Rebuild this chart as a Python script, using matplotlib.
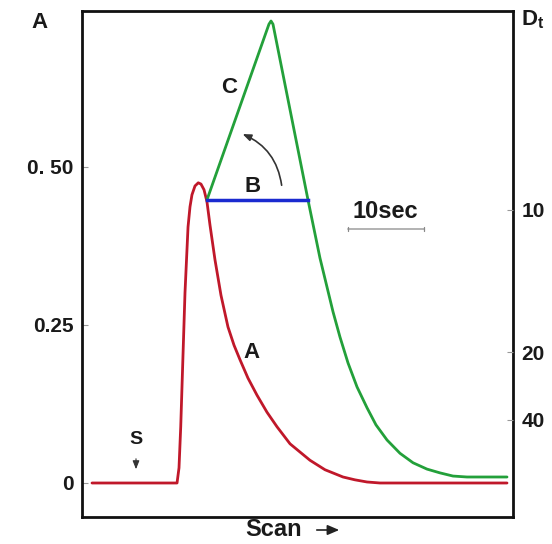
import matplotlib
matplotlib.use("Agg")
import matplotlib.pyplot as plt
from matplotlib.patches import FancyArrowPatch

plt.rcParams['font.family'] = ['Liberation Sans', 'DejaVu Sans']

# Curve A (red): scan time (s) vs absorbance
a_time = [1.22, 11.59, 11.83, 12.04, 12.26, 12.56, 12.93, 13.17, 13.41, 13.78, 14.18,
          14.51, 14.88, 15.24, 15.61, 16.22, 16.95, 17.80, 18.54, 19.27, 20.24, 21.34,
          22.56, 23.78, 25.37, 27.80, 29.63, 31.83, 33.29, 34.76, 36.34, 51.83]
a_abs = [0.0, 0.0, 0.024, 0.089, 0.179, 0.301, 0.405, 0.437, 0.456, 0.470, 0.475,
         0.473, 0.464, 0.445, 0.408, 0.353, 0.297, 0.247, 0.218, 0.195, 0.166, 0.139,
         0.112, 0.089, 0.062, 0.036, 0.021, 0.0095, 0.005, 0.0016, 0.0, 0.0]

# Curve C (green)
c_time = [15.24, 22.80, 23.05, 23.29, 27.56, 29.02, 29.88, 30.61, 31.46, 32.44, 33.54,
          34.76, 35.85, 37.20, 38.78, 40.37, 42.07, 43.66, 45.24, 46.95, 51.83]
c_abs = [0.448, 0.726, 0.731, 0.726, 0.448, 0.356, 0.310, 0.271, 0.231, 0.190, 0.152,
         0.119, 0.092, 0.068, 0.047, 0.032, 0.022, 0.016, 0.011, 0.0095, 0.0095]

# Line B (blue)
b_time = [15.24, 27.56]
b_abs = [0.448, 0.448]

left_ticks = [0, 0.25, 0.50]
left_labels = ['0', '0.25', '0. 50']
right_ticks = [0.432, 0.207, 0.0997]
right_labels = ['10', '20', '40']

TXT = '#1a1a1a'

fig = plt.figure(figsize=(5.52, 5.44), dpi=100)
ax = fig.add_axes([82/552, 1-517/544, 431/552, 506/544])
ax.set_xlim(0, 431/8.2)
ax.set_ylim((483-517)/632, (483-11)/632)

ax.plot(a_time, a_abs, color='#c0182a', lw=2.0, solid_joinstyle='round', solid_capstyle='round')
ax.plot(c_time, c_abs, color='#23a03a', lw=2.0, solid_joinstyle='round', solid_capstyle='round')
ax.plot(b_time, b_abs, color='#1a2ad0', lw=2.5)

for s in ax.spines.values():
    s.set_linewidth(2.0)
    s.set_color('#111111')

ax.set_xticks([])
ax.set_yticks(left_ticks)
ax.set_yticklabels(left_labels, fontsize=15, fontweight='bold', color=TXT)
ax.tick_params(axis='y', direction='in', length=4, width=0.8, color='#999999', pad=6)

ax2 = ax.twinx()
ax2.set_ylim(ax.get_ylim())
ax2.set_yticks(right_ticks)
ax2.set_yticklabels(right_labels, fontsize=15, fontweight='bold', color=TXT)
ax2.tick_params(axis='y', direction='in', length=4, width=0.8, color='#999999', pad=6)
for s in ax2.spines.values():
    s.set_visible(False)

# axis titles
fig.text(40/552, 1-22/544, 'A', fontsize=16, fontweight='bold', ha='center', va='center', color=TXT)
fig.text(533/552, 1-20/544, r'D$_\mathregular{t}$', fontsize=16, fontweight='bold', ha='center', va='center', color=TXT)
fig.text(274/552, 1-530/544, 'Scan', fontsize=17, fontweight='bold', ha='center', va='center', color=TXT)
fig.patches.append(FancyArrowPatch((314/552, 1-530/544), (342/552, 1-530/544),
                                   transform=fig.transFigure, arrowstyle='-|>,head_length=7,head_width=3',
                                   color='#222222', lw=1.2, mutation_scale=1))

# curve labels
def px(x, y):
    return ((x-82)/8.2, (483-y)/632)

kw = dict(fontsize=16, fontweight='bold', ha='center', va='center', color=TXT)
ax.text(*px(229, 88), 'C', **kw)
ax.text(*px(253, 187), 'B', **kw)
ax.text(*px(252, 353), 'A', **kw)
ax.text(*px(136, 440), 'S', fontsize=14, fontweight='bold', ha='center', va='center', color=TXT)
ax.annotate('', xy=px(136, 472), xytext=px(136, 456),
            arrowprops=dict(arrowstyle='-|>,head_length=0.5,head_width=0.2', color='#333333', lw=0.8))
ax.text(*px(385, 212), '10sec', fontsize=17, fontweight='bold', ha='center', va='center', color=TXT)
ax.annotate('', xy=px(345, 229), xytext=px(427, 229),
            arrowprops=dict(arrowstyle='|-|,widthA=0.15,widthB=0.15', color='#888888', lw=0.9))
ax.annotate('', xy=px(240, 133), xytext=px(282, 188),
            arrowprops=dict(arrowstyle='-|>,head_length=0.5,head_width=0.2', color='#333333', lw=1.2,
                            connectionstyle='arc3,rad=0.3'))

fig.savefig('out.png', dpi=100)
